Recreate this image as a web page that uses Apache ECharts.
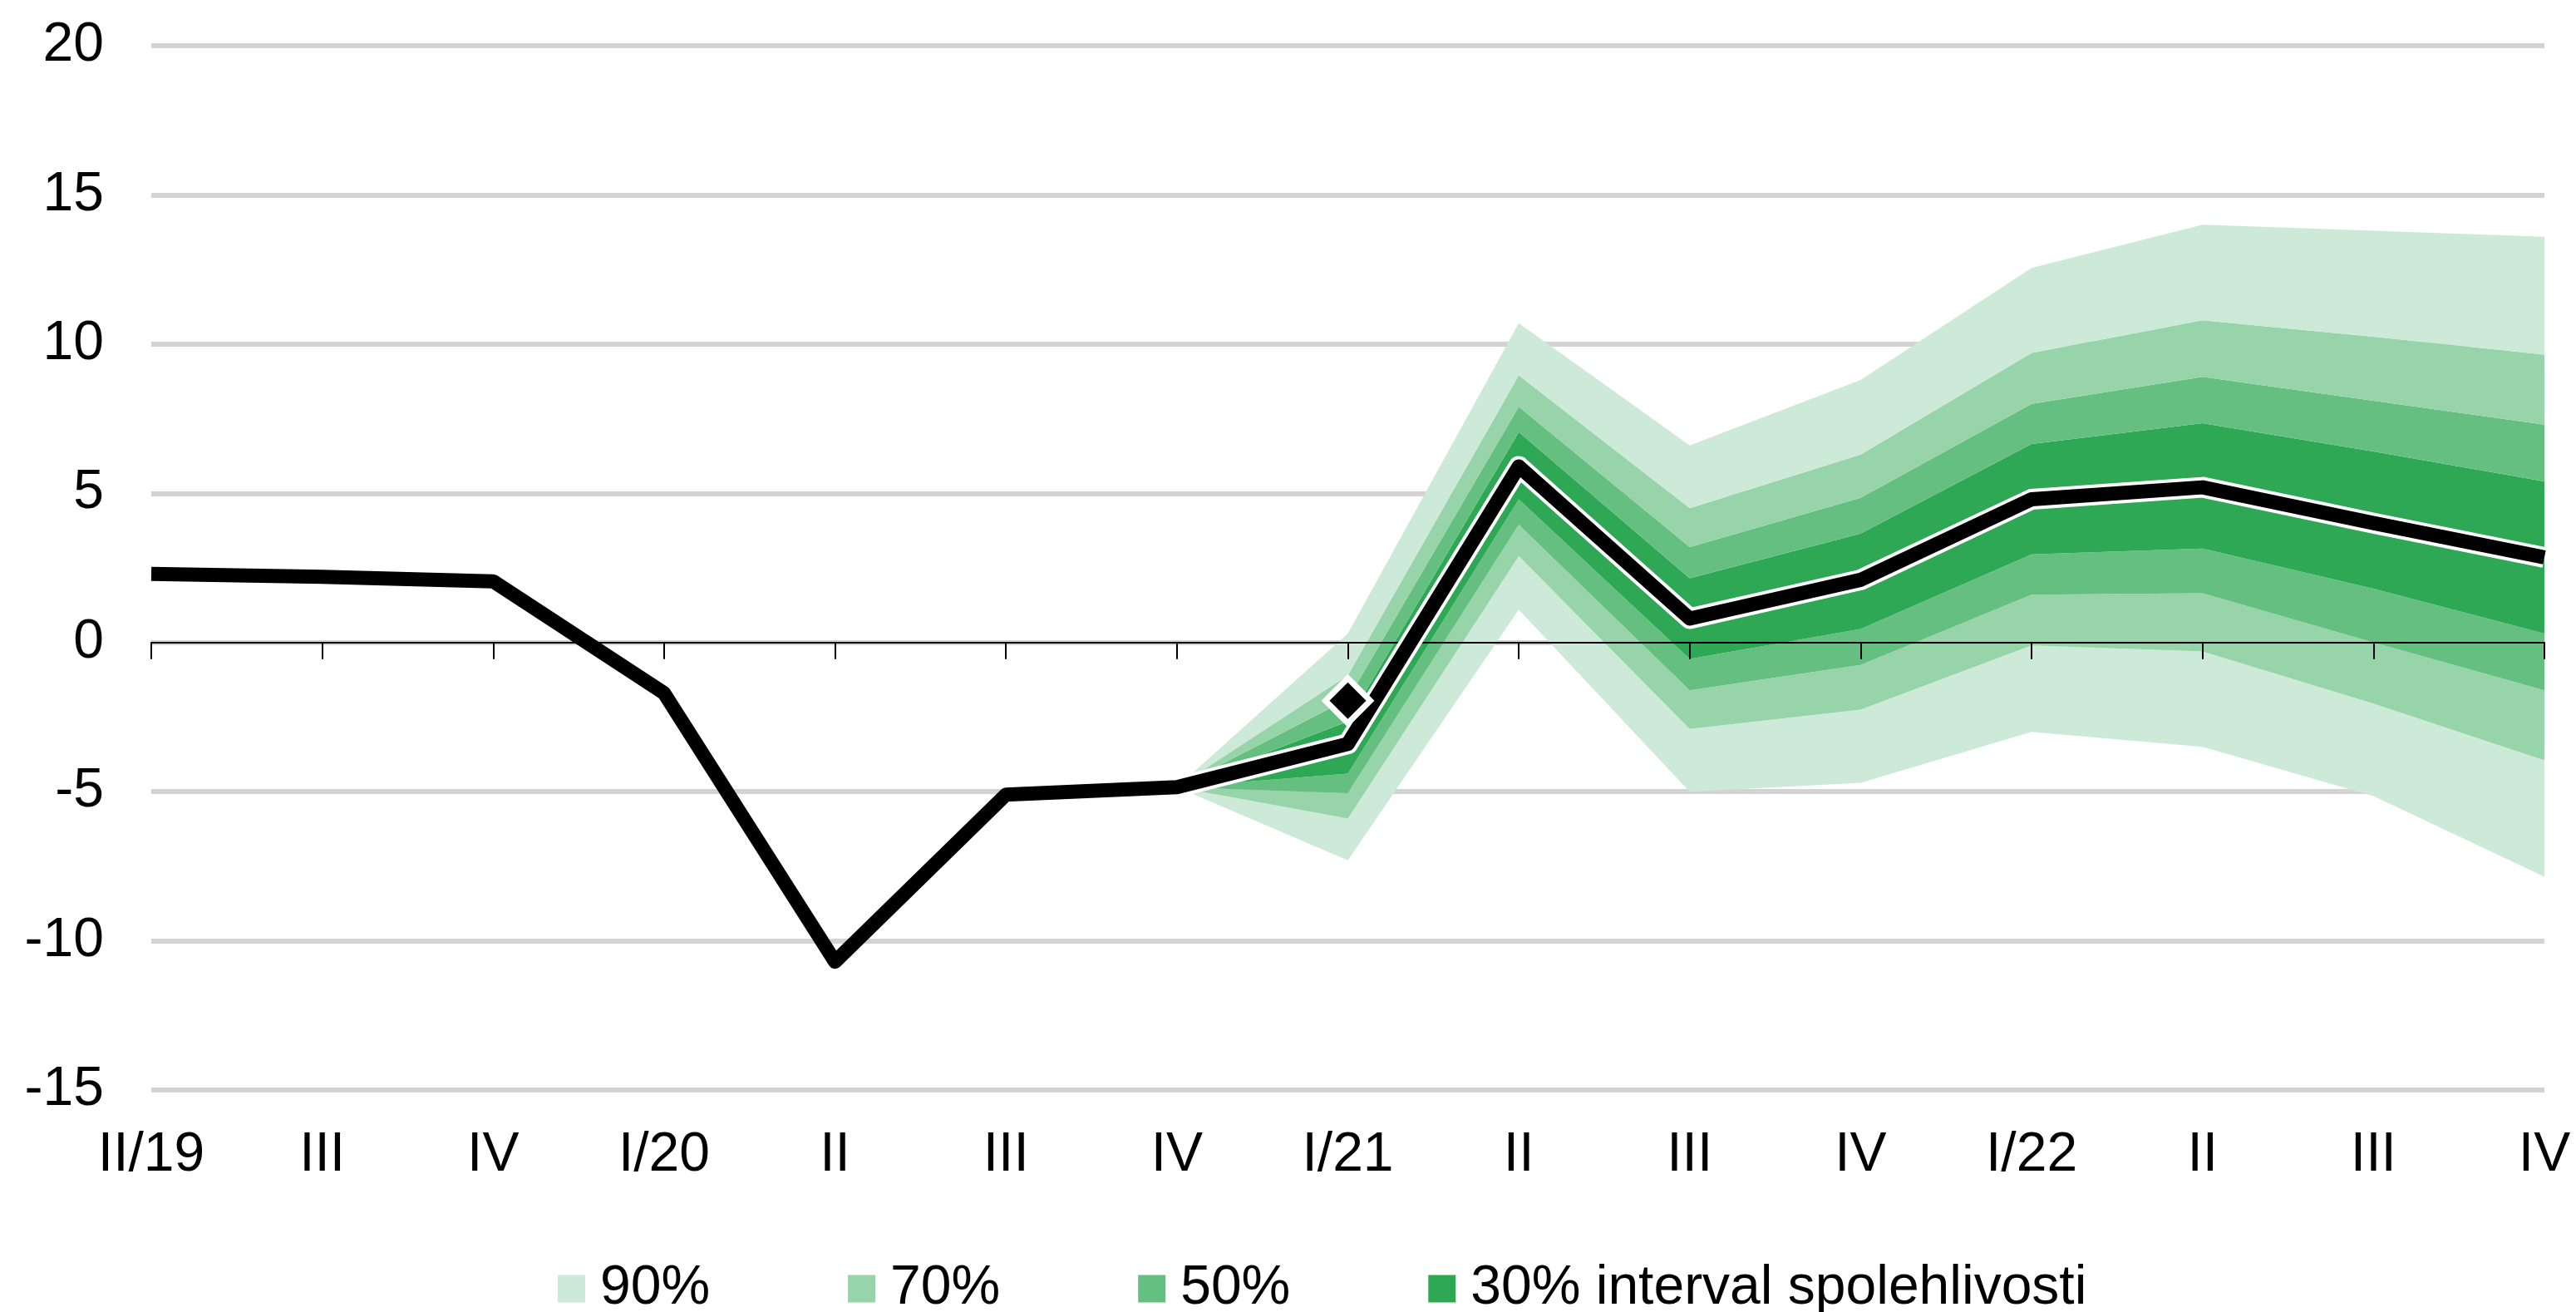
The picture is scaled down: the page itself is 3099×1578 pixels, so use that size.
<!DOCTYPE html>
<html>
<head>
<meta charset="utf-8">
<script src="https://cdn.jsdelivr.net/npm/echarts@6/dist/echarts.min.js"></script>
<style>
  html, body { margin: 0; padding: 0; background: #fff; }
  #chart { width: 3099px; height: 1578px; }
</style>
</head>
<body>
<div id="chart"></div>
<script>
var categories = ["II/19", "III", "IV", "I/20", "II", "III", "IV", "I/21", "II", "III", "IV", "I/22", "II", "III", "IV"];
var yTicks = { min: -15, max: 20, step: 5 };

// prognoza (median)
var mainLine = [2.3, 2.2, 2.05, -1.7, -10.7, -5.1, -4.85, -3.4, 5.9, 0.8, 2.1, 4.8, 5.2, 4.0, 2.85];
var actualPoint = -1.95; // I/21

// fan bounds, from IV/20 to IV/22
var fanStart = 6;
var lo90 = [-4.85, -7.3, 1.1, -5.0, -4.7, -3.0, -3.5, -5.15, -7.85];
var lo70 = [-4.85, -5.9, 2.9, -2.9, -2.25, -0.1, -0.3, -2.05, -3.95];
var lo50 = [-4.85, -5.05, 3.95, -1.6, -0.75, 1.6, 1.65, 0.0, -1.6];
var lo30 = [-4.85, -4.4, 4.8, -0.55, 0.45, 2.95, 3.15, 1.8, 0.3];
var hi30 = [-4.85, -2.65, 7.05, 2.15, 3.65, 6.65, 7.35, 6.4, 5.4];
var hi50 = [-4.85, -1.9, 7.9, 3.2, 4.85, 8.0, 8.9, 8.1, 7.3];
var hi70 = [-4.85, -1.1, 8.95, 4.5, 6.3, 9.7, 10.8, 10.25, 9.65];
var hi90 = [-4.85, 0.3, 10.7, 6.6, 8.8, 12.55, 14.0, 13.8, 13.6];

var legendNames = ["90%", "70%", "50%", "30% interval spolehlivosti"];
var colors = { "90%": "#cde9d7", "70%": "#98d4a9", "50%": "#64bf80", "30% interval spolehlivosti": "#2ea855" };

var font = "'Liberation Sans', Arial, sans-serif";

function pad(arr) {
  var out = [];
  for (var i = 0; i < fanStart; i++) out.push("-");
  return out.concat(arr);
}
function diff(a, b) {
  return a.map(function (v, i) { return +(v - b[i]).toFixed(3); });
}

function band(name, data) {
  return {
    name: name,
    type: "line",
    stack: "fan",
    stackStrategy: "all",
    data: pad(data),
    symbol: "none",
    silent: true,
    color: colors[name],
    lineStyle: { width: 0, opacity: 0 },
    areaStyle: { color: colors[name], opacity: 1 },
    z: 2
  };
}

var outline = mainLine.map(function (v, i) { return i >= fanStart ? v : "-"; });
var marker = categories.map(function (c, i) { return i === 7 ? actualPoint : "-"; });

var chart = echarts.init(document.getElementById("chart"));
var option = {
  animation: false,
  backgroundColor: "#fff",
  grid: { left: 182, right: 38, top: 55, bottom: 267 },
  legend: {
    data: legendNames,
    left: 666,
    top: 1512,
    icon: "rect",
    itemWidth: 33,
    itemHeight: 33,
    itemGap: 166,
    textStyle: { fontSize: 66, color: "#000", fontFamily: font, padding: [0, 0, 0, 13] }
  },
  xAxis: [
    {
      type: "category",
      data: categories,
      boundaryGap: false,
      z: 5,
      axisLine: { onZero: true, lineStyle: { color: "#000", width: 2 } },
      axisTick: { show: true, length: 20, lineStyle: { color: "#000", width: 2 } },
      axisLabel: { show: false },
      splitLine: { show: false }
    },
    {
      type: "category",
      data: categories,
      boundaryGap: false,
      position: "bottom",
      axisLine: { show: false, onZero: false },
      axisTick: { show: false },
      axisLabel: { margin: 46, fontSize: 66, color: "#000", fontFamily: font, interval: 0 },
      splitLine: { show: false }
    }
  ],
  yAxis: {
    type: "value",
    min: yTicks.min,
    max: yTicks.max,
    interval: yTicks.step,
    axisLine: { show: false },
    axisTick: { show: false },
    axisLabel: { margin: 57, fontSize: 66, color: "#000", fontFamily: font },
    splitLine: { lineStyle: { color: "#d3d3d3", width: 6 } }
  },
  series: [
    {
      name: "base",
      type: "line",
      stack: "fan",
      stackStrategy: "all",
      data: pad(lo90),
      symbol: "none",
      silent: true,
      lineStyle: { width: 0, opacity: 0 },
      z: 2
    },
    band("90%", diff(lo70, lo90)),
    band("70%", diff(lo50, lo70)),
    band("50%", diff(lo30, lo50)),
    band("30% interval spolehlivosti", diff(hi30, lo30)),
    band("50%", diff(hi50, hi30)),
    band("70%", diff(hi70, hi50)),
    band("90%", diff(hi90, hi70)),
    {
      name: "outline",
      type: "line",
      data: outline,
      symbol: "none",
      lineStyle: { color: "#fff", width: 25, join: "round" },
      z: 8
    },
    {
      name: "line",
      type: "line",
      data: mainLine,
      symbol: "none",
      lineStyle: { color: "#000", width: 17, join: "round" },
      z: 9
    },
    {
      name: "actual",
      type: "scatter",
      data: marker,
      symbol: "diamond",
      symbolSize: 54,
      itemStyle: { color: "#000", opacity: 1, borderColor: "#fff", borderWidth: 7 },
      z: 10
    }
  ]
};
option && chart.setOption(option);
</script>
</body>
</html>
